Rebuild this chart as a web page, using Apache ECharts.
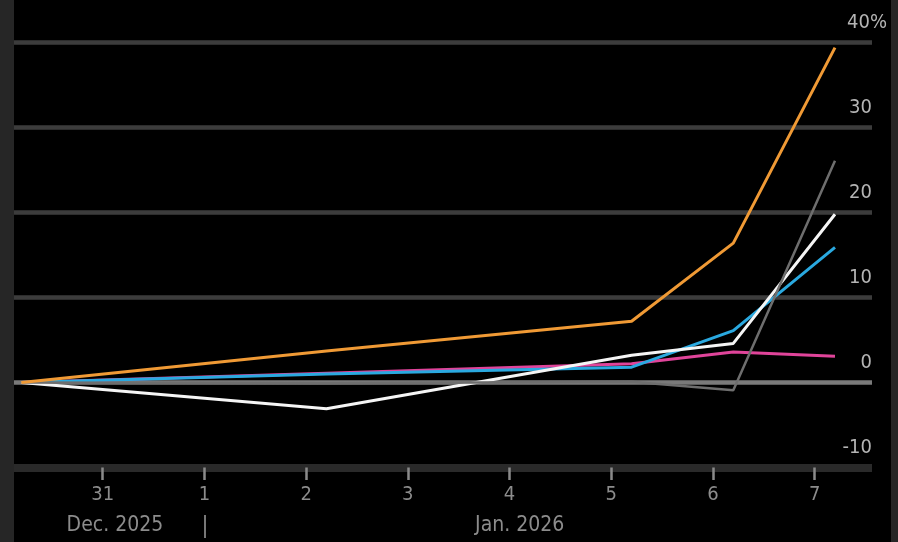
<!DOCTYPE html>
<html>
<head>
<meta charset="utf-8">
<script src="https://cdn.jsdelivr.net/npm/echarts@6/dist/echarts.min.js"></script>
<style>
  html, body { margin: 0; padding: 0; background: #262626; width: 898px; height: 542px; overflow: hidden; }
  #chart { position: absolute; left: 14px; top: 0; width: 877px; height: 542px; background: #000; }
</style>
</head>
<body>
<div id="chart"></div>
<script>
// ---- data (x in days since 2025-12-30 00:00 UTC) ----
const DAY = 86400000;
const T0 = Date.parse('2025-12-30T00:00:00Z');
const toDays = s => (Date.parse(s) - T0) / DAY;

const pointTimes = ['2025-12-30T04:48:00Z', '2026-01-02T04:48:00Z', '2026-01-05T04:48:00Z', '2026-01-06T04:48:00Z', '2026-01-07T04:48:00Z'].map(toDays);
const orangeValues  = [0, 3.7, 7.2, 16.4, 39.4];
const greyValues    = [0, -0.1, 0.1, -0.9, 26.1];
const whiteValues   = [0, -3.1, 3.2, 4.6, 19.8];
const blueValues    = [0, 1.0, 1.8, 6.1, 15.9];
const magentaValues = [0, 1.1, 2.2, 3.6, 3.1];

const tickTimes  = ['2025-12-31', '2026-01-01', '2026-01-02', '2026-01-03', '2026-01-04', '2026-01-05', '2026-01-06', '2026-01-07'].map(d => toDays(d + 'T00:00:00Z'));
const tickLabels = ['31', '1', '2', '3', '4', '5', '6', '7'];
const monthTimes  = ['2025-12-31T02:53:00Z', '2026-01-04T02:24:00Z'].map(toDays);
const monthLabels = ['Dec. 2025', 'Jan. 2026'];
const separatorTimes = ['2026-01-01T00:00:00Z'].map(toDays);
const xMin = toDays('2025-12-30T03:04:00Z');
const xMax = toDays('2026-01-07T13:32:00Z');

const FONT = "'Liberation Sans Narrow', 'DejaVu Sans Condensed', 'Liberation Sans', sans-serif";

function nearestIndex(arr, v) {
  let best = 0;
  for (let i = 1; i < arr.length; i++) if (Math.abs(arr[i] - v) < Math.abs(arr[best] - v)) best = i;
  return best;
}
function pairs(vals) { return vals.map((v, i) => [pointTimes[i], v]); }
function lineSeries(name, vals, color, width) {
  return {
    name, type: 'line', data: pairs(vals), showSymbol: false, symbol: 'none',
    lineStyle: { color, width }, animation: false, silent: true
  };
}

const chart = echarts.init(document.getElementById('chart'), null, { renderer: 'canvas' });
chart.setOption({
  backgroundColor: '#000',
  animation: false,
  grid: { left: 0, right: 19, top: 42.5, bottom: 74.5, containLabel: false },
  xAxis: [
    {
      type: 'value', min: xMin, max: xMax, position: 'bottom',
      axisLine: { show: true, onZero: false, lineStyle: { color: '#2a2a2a', width: 8, cap: 'butt' } },
      axisTick: { show: true, customValues: tickTimes, length: 12.5, lineStyle: { color: '#8a8a8a', width: 2.5 } },
      axisLabel: {
        customValues: tickTimes, margin: 17, color: '#8c8c8c', fontSize: 20, fontFamily: FONT,
        formatter: v => tickLabels[nearestIndex(tickTimes, v)]
      },
      splitLine: { show: false }
    },
    {
      type: 'value', min: xMin, max: xMax, position: 'bottom', offset: 47.5,
      axisLine: { show: false, onZero: false },
      axisTick: { show: true, customValues: separatorTimes, length: 23, lineStyle: { color: '#777', width: 2 } },
      axisLabel: {
        customValues: monthTimes, margin: 0, color: '#8c8c8c', fontSize: 21, lineHeight: 22, fontFamily: FONT,
        formatter: v => monthLabels[nearestIndex(monthTimes, v)]
      },
      splitLine: { show: false }
    }
  ],
  yAxis: {
    type: 'value', position: 'right', min: -10, max: 40, interval: 10,
    axisLine: { show: false }, axisTick: { show: false },
    splitLine: { show: true, lineStyle: { color: ['#2a2a2a', '#7a7a7a', '#3c3c3c', '#3c3c3c', '#3c3c3c', '#3c3c3c'], width: 4.5, cap: 'butt' } },
    axisLabel: {
      inside: true, margin: -15, verticalAlign: 'bottom', padding: [0, 0, 9, 0],
      formatter: v => v === 40 ? '{a|40}{p|%}' : '{a|' + v + '}{s|}',
      rich: {
        a: { color: '#b4b4b4', fontSize: 20, lineHeight: 22, fontFamily: FONT },
        p: { color: '#b4b4b4', fontSize: 20, lineHeight: 22, fontFamily: FONT },
        s: { width: 15, fontSize: 20, lineHeight: 22 }
      }
    }
  },
  series: [
    lineSeries('magenta', magentaValues, '#e0449a', 3),
    lineSeries('blue', blueValues, '#2aa9e0', 3),
    lineSeries('white', whiteValues, '#f5f5f5', 3),
    lineSeries('grey', greyValues, '#6e6e6e', 2.5),
    lineSeries('orange', orangeValues, '#f09a35', 3)
  ]
});
</script>
</body>
</html>
